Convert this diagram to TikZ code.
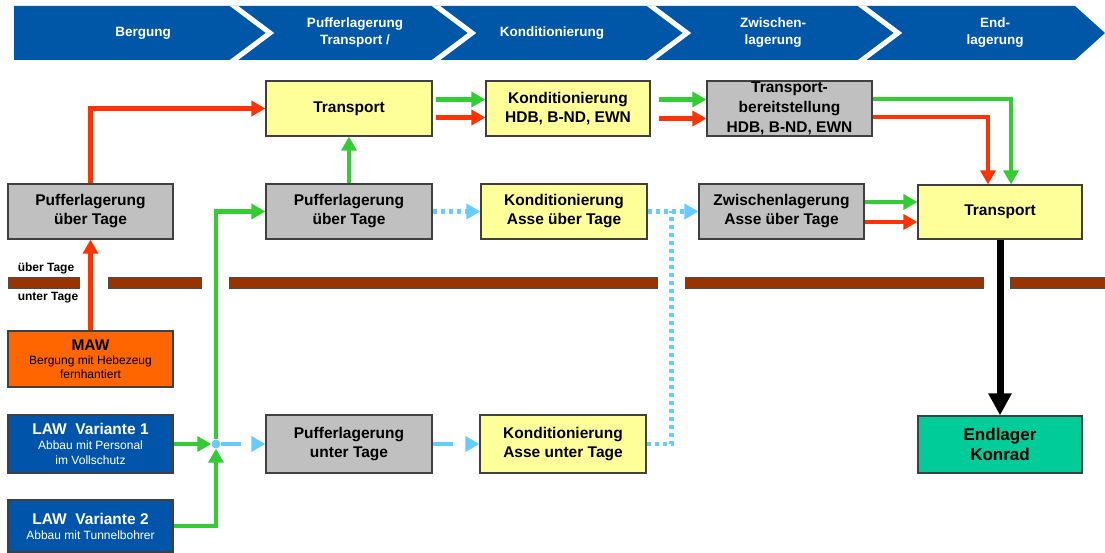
\documentclass[tikz,border=0pt]{standalone}
\usepackage{fontspec}
\setmainfont{Liberation Sans}
\usetikzlibrary{arrows.meta}

\definecolor{kopfblau}{HTML}{0057A8}
\definecolor{lawblau}{HTML}{0055AA}
\definecolor{gelb}{HTML}{FFFF99}
\definecolor{grau}{HTML}{C0C0C0}
\definecolor{mawrot}{HTML}{FF6600}
\definecolor{konrad}{HTML}{00CC99}
\definecolor{erde}{HTML}{993300}
\definecolor{gruen}{HTML}{33CC33}
\definecolor{rot}{HTML}{FF3300}
\definecolor{hellblau}{HTML}{66CCFF}

\begin{document}
\begin{tikzpicture}[x=1pt,y=-1pt,
		box/.style={rectangle,draw=black!75,line width=1.2pt,minimum width=165pt,minimum height=55pt,inner sep=0pt,align=center,font=\bfseries\fontsize{15.5}{19}\selectfont},
		gelbbox/.style={box,fill=gelb},
		graubox/.style={box,fill=grau},
		lawbox/.style={box,fill=lawblau,text=white,font=\fontsize{12}{15}\selectfont},
		kopf/.style={text=white,align=center,font=\bfseries\fontsize{13.5}{17}\selectfont},
		tag/.style={font=\bfseries\fontsize{12}{14}\selectfont},
		pfeil/.style={line width=4.5pt,-{Triangle[length=14pt,width=15pt]}},
		gruenpfeil/.style={pfeil,draw=gruen},
		rotpfeil/.style={pfeil,draw=rot},
		blaupfeil/.style={pfeil,draw=hellblau,dash pattern=on 20pt off 14pt},
		punktpfeil/.style={pfeil,draw=hellblau,dash pattern=on 4pt off 4pt}]
	\useasboundingbox (0,0) rectangle (1105,553);

	\fill[kopfblau] (14,6) -- (1075,6) -- (1105,33) -- (1075,60) -- (14,60) -- cycle;
	\begin{scope}
		\clip (14,6) -- (1075,6) -- (1105,33) -- (1075,60) -- (14,60) -- cycle;
		\foreach \r in {234,436,651,862}
			\draw[white,line width=5pt] (\r-4,3) -- (\r+36,33) -- (\r-4,63);
	\end{scope}
	\node (kBergung) [kopf] at (143,33) {Bergung};
	\node (kPuffer) [kopf] at (355,33) {Pufferlagerung\\Transport /};
	\node (kKond) [kopf] at (552,33) {Konditionierung};
	\node (kZwischen) [kopf] at (773,33) {Zwischen-\\lagerung};
	\node (kEnd) [kopf] at (995,33) {End-\\lagerung};

	\foreach \a/\b in {8/79,108/201,229/657,685/983,1010/1106}
		\filldraw[fill=erde,draw=black!70,line width=0.8pt] (\a,277) rectangle (\b,288);
	\node (ueber) [tag] at (46,268) {über Tage};
	\node (unter) [tag] at (48,298) {unter Tage};

	\node (transA) [gelbbox,minimum width=166pt] at (349,108.5) {Transport};
	\node (kondHDB) [gelbbox,minimum width=164pt] at (568,108.5) {Konditionierung\\HDB, B-ND, EWN};
	\node (bereit) [graubox,font=\bfseries\fontsize{15.5}{20}\selectfont] at (789.5,108.5) {Transport-\\bereitstellung\\HDB, B-ND, EWN};

	\node (pufL) [graubox] at (90.5,211.5) {Pufferlagerung\\über Tage};
	\node (pufM) [graubox,minimum width=166pt] at (349,211.5) {Pufferlagerung\\über Tage};
	\node (kondO) [gelbbox,minimum width=166pt] at (564,211.5) {Konditionierung\\Asse über Tage};
	\node (zwisch) [graubox] at (781.5,211.5) {Zwischenlagerung\\Asse über Tage};
	\node (transB) [gelbbox,minimum width=164pt,minimum height=54pt] at (1000,212) {Transport};

	\node (maw) [box,fill=mawrot,font=\fontsize{12}{14}\selectfont,minimum height=56pt] at (90.5,359) {{\bfseries\fontsize{15.5}{17}\selectfont MAW}\\Bergung mit Hebezeug\\fernhantiert};
	\node (law1) [lawbox,minimum height=58pt] at (90.5,444) {{\bfseries\fontsize{15.5}{15}\selectfont LAW\ \ Variante 1}\\Abbau mit Personal\\im Vollschutz};
	\node (law2) [lawbox,minimum height=52pt] at (90.5,526) {{\bfseries\fontsize{15.5}{16}\selectfont LAW\ \ Variante 2}\\Abbau mit Tunnelbohrer};
	\node (pufU) [graubox,minimum width=166pt,minimum height=58pt] at (349,444) {Pufferlagerung\\unter Tage};
	\node (kondU) [gelbbox,minimum width=166pt,minimum height=58pt] at (563,444) {Konditionierung\\Asse unter Tage};
	\node (endl) [box,fill=konrad,minimum width=164pt,minimum height=57pt,font=\bfseries\fontsize{17}{20}\selectfont] at (1000,444.5) {Endlager\\Konrad};

	\node (jn) [circle,fill=hellblau,inner sep=0pt,minimum size=9pt] at (216,444) {};

	\draw[rotpfeil] (maw.north) -- (pufL.south);
	\draw[rotpfeil] (pufL.north) |- (transA.west);
	\draw[gruenpfeil,shorten <=3pt] ([yshift=9pt]transA.east) -- ([yshift=9pt]kondHDB.west);
	\draw[rotpfeil,shorten <=3pt] ([yshift=-9pt]transA.east) -- ([yshift=-9pt]kondHDB.west);
	\draw[gruenpfeil,shorten <=8pt] ([yshift=9pt]kondHDB.east) -- ([yshift=9pt]bereit.west);
	\draw[rotpfeil,shorten <=8pt] ([yshift=-10pt]kondHDB.east) -- ([yshift=-10pt]bereit.west);
	\draw[gruenpfeil] ([yshift=9.5pt]bereit.east) -| ([xshift=11pt]transB.north);
	\draw[rotpfeil] ([yshift=-8.5pt]bereit.east) -| ([xshift=-12pt]transB.north);
	\draw[gruenpfeil] (pufM.north) -- (transA.south);

	\draw[gruenpfeil] (law1.east) -- (jn);
	\draw[gruenpfeil] (law2.east) -| (jn);
	\draw[gruenpfeil] (jn.north) |- (pufM.west);
	\draw[blaupfeil] (jn.east) -- (pufU.west);
	\draw[blaupfeil] (pufU.east) -- (kondU.west);

	\draw[punktpfeil] (pufM.east) -- (kondO.west);
	\draw[punktpfeil] (kondO.east) -- (zwisch.west);
	\draw[punktpfeil,-] (kondU.east) -| ([xshift=24pt]kondO.east);

	\draw[gruenpfeil] ([yshift=9.5pt]zwisch.east) -- ([yshift=9.5pt]zwisch.east -| transB.west);
	\draw[rotpfeil] ([yshift=-10.5pt]zwisch.east) -- ([yshift=-10.5pt]zwisch.east -| transB.west);

	\draw[line width=7pt,-{Triangle[length=22pt,width=22pt]}] (transB.south) -- (endl.north);
\end{tikzpicture}
\end{document}
